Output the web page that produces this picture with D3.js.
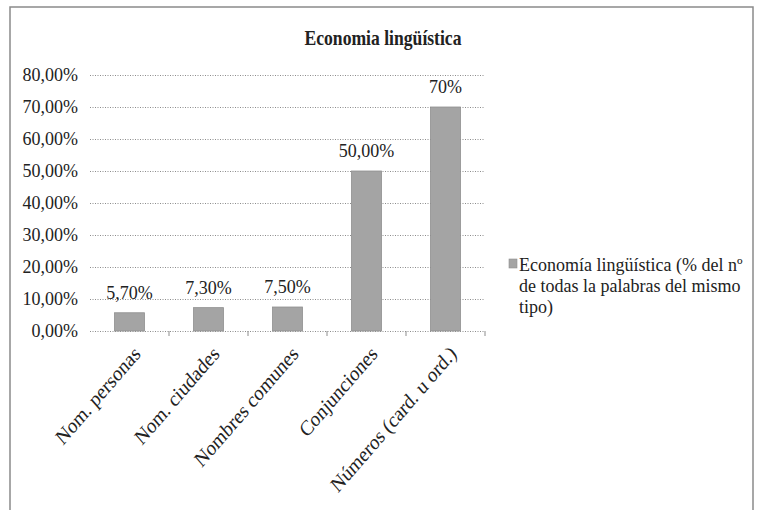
<!DOCTYPE html>
<html>
<head>
<meta charset="utf-8">
<script src="https://cdn.jsdelivr.net/npm/d3@7"></script>
<style>
  body { margin: 0; background: #fff; }
  svg text { font-family: "Liberation Serif", "Times New Roman", serif; fill: #222; }
</style>
</head>
<body>
<div id="chart-container"></div>
<script>
const categories = ["Nom. personas", "Nom. ciudades", "Nombres comunes", "Conjunciones", "Números (card. u ord.)"];
const values = [5.7, 7.3, 7.5, 50, 70];
const valueLabels = ["5,70%", "7,30%", "7,50%", "50,00%", "70%"];
const yTicks = [0, 10, 20, 30, 40, 50, 60, 70, 80];
const legendLines = ["Economía lingüística (% del nº", "de todas la palabras del mismo", "tipo)"];

const width = 757, height = 510;
const plot = { left: 90, right: 485, top: 75, bottom: 331 };

const svg = d3.select("#chart-container")
  .append("svg")
  .attr("width", width)
  .attr("height", height);

// outer frame (bottom runs off the picture)
svg.append("rect")
  .attr("x", 10).attr("y", 7)
  .attr("width", 743).attr("height", 530)
  .attr("fill", "none")
  .attr("stroke", "#8a8a8a")
  .attr("stroke-width", 1.5);

// title
svg.append("text")
  .attr("x", 383).attr("y", 45)
  .attr("text-anchor", "middle")
  .attr("font-size", 21)
  .attr("font-weight", "bold")
  .attr("textLength", 157)
  .attr("lengthAdjust", "spacingAndGlyphs")
  .text("Economia lingüística");

const x = d3.scaleBand()
  .domain(categories)
  .range([plot.left, plot.right])
  .paddingInner(0.62)
  .paddingOuter(0.31);

const y = d3.scaleLinear()
  .domain([0, 80])
  .range([plot.bottom, plot.top]);

const fmt = (d) => d3.format(".2f")(d).replace(".", ",") + "%";

// y axis with dotted gridlines
const yAxis = svg.append("g")
  .attr("transform", `translate(${plot.left},0)`)
  .call(d3.axisLeft(y).tickValues(yTicks).tickFormat(fmt)
    .tickSize(-(plot.right - plot.left)).tickPadding(10));
yAxis.select(".domain").remove();
yAxis.selectAll(".tick line")
  .attr("stroke", "#8c8c8c")
  .attr("stroke-dasharray", "1,1.5");
yAxis.selectAll(".tick text")
  .attr("font-size", 18)
  .attr("fill", "#222")
  .attr("x", -12);

// category tick marks between bands
const step = x.step();
svg.append("g").selectAll("line")
  .data(d3.range(1, categories.length + 1))
  .enter()
  .append("line")
  .attr("x1", (i) => plot.left + i * step)
  .attr("x2", (i) => plot.left + i * step)
  .attr("y1", plot.bottom)
  .attr("y2", plot.bottom + 5)
  .attr("stroke", "#8c8c8c");

// bars
svg.selectAll(".bar")
  .data(values)
  .enter()
  .append("rect")
  .attr("class", "bar")
  .attr("x", (d, i) => x(categories[i]))
  .attr("y", (d) => y(d))
  .attr("width", x.bandwidth())
  .attr("height", (d) => y(0) - y(d))
  .attr("fill", "#a4a4a4")
  .attr("stroke", "#8f8f8f")
  .attr("stroke-width", 0.8);

// value labels
svg.selectAll(".val")
  .data(values)
  .enter()
  .append("text")
  .attr("class", "val")
  .attr("x", (d, i) => x(categories[i]) + x.bandwidth() / 2)
  .attr("y", (d) => y(d) - 14)
  .attr("text-anchor", "middle")
  .attr("font-size", 18)
  .text((d, i) => valueLabels[i]);

// rotated category labels (slightly stretched, like the scanned original)
svg.selectAll(".cat")
  .data(categories)
  .enter()
  .append("text")
  .attr("class", "cat")
  .attr("text-anchor", "end")
  .attr("font-size", 18.5)
  .attr("transform", (d) => {
    const cx = x(d) + x.bandwidth() / 2 + 12;
    return `translate(${cx},${plot.bottom + 24}) scale(1,1.16) rotate(-45)`;
  })
  .text((d) => d);

// legend
const legend = svg.append("g").attr("transform", "translate(509,259)");
legend.append("rect")
  .attr("width", 8).attr("height", 9)
  .attr("fill", "#a4a4a4")
  .attr("stroke", "#8f8f8f")
  .attr("stroke-width", 0.6);
legend.selectAll("text")
  .data(legendLines)
  .enter()
  .append("text")
  .attr("x", 10)
  .attr("y", (d, i) => 12 + i * 21)
  .attr("font-size", 18)
  .text((d) => d);
</script>
</body>
</html>
